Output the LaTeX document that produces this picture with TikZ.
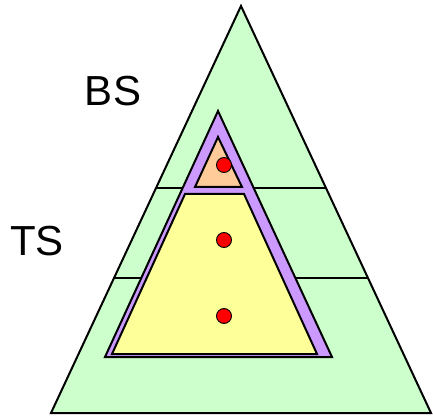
\documentclass[tikz,border=0pt]{standalone}
\usepackage{fontspec}
\setmainfont{Liberation Sans}
\usepackage{tikz}
\usetikzlibrary{positioning}
\definecolor{outerfill}{RGB}{204,255,204}
\definecolor{bandfill}{RGB}{204,153,255}
\definecolor{topfill}{RGB}{255,204,153}
\definecolor{lowfill}{RGB}{255,255,153}
\definecolor{dotred}{RGB}{255,0,0}

\begin{document}
\begin{tikzpicture}[
    x=1pt, y=-1pt,
    region/.style={draw=black, line width=2pt, line join=miter},
    level/.style={draw=black, line width=1.5pt},
    dot/.style={circle, draw=black, line width=0.9pt, fill=dotred,
                minimum size=15pt, inner sep=0pt},
    lbl/.style={font=\fontsize{42}{48}\selectfont, inner sep=0pt}
  ]
  \useasboundingbox (0,0) rectangle (433,419);
  % Outer triangle
  \draw[region, fill=outerfill] (241,6) -- (431,413) -- (51,413) -- cycle;
  % Level lines
  \draw[level] (156,188) -- (326,188);
  \draw[level] (113,278) -- (368,278);
  % Purple band
  \draw[region, fill=bandfill] (218,111) -- (332,357) -- (105,357) -- cycle;
  % Top part
  \draw[region, fill=topfill] (218,137) -- (242,187) -- (195,187) -- cycle;
  % Lower part
  \draw[region, fill=lowfill] (185,194) -- (244,194) -- (317,354) -- (112,354) -- cycle;
  % Dots
  \node[dot] (d1) at (224,165) {};
  \node[dot] (d2) at (224,240) {};
  \node[dot] (d3) at (224,316) {};
  % Labels
  \node[lbl] (bs) at (113,91) {BS};
  \node[lbl] (ts) at (37,241) {TS};
\end{tikzpicture}
\end{document}
